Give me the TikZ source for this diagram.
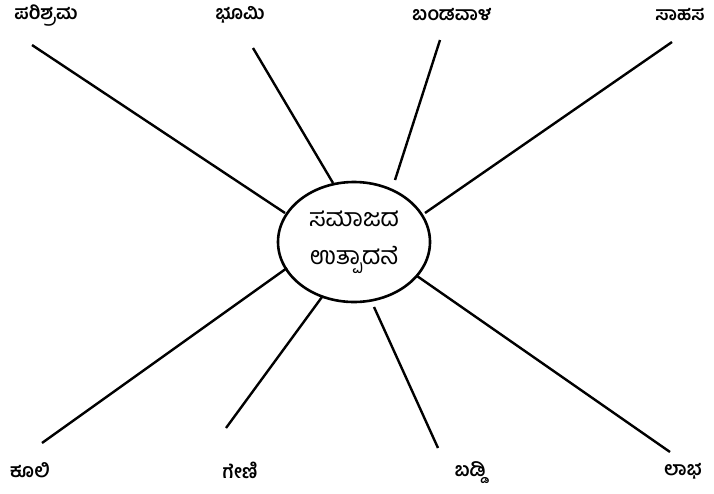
\documentclass[tikz,border=0pt]{standalone}
\usepackage{fontspec}
\usetikzlibrary{shapes.geometric}
\newfontfamily\kn[Script=Kannada]{Hind Mysuru}
\begin{document}
\begin{tikzpicture}[x=1pt,y=-1pt,
  lbl/.style={font=\kn\bfseries\fontsize{19}{22}\selectfont, inner sep=0pt},
  spoke/.style={line width=2.4pt}]
\useasboundingbox (0,0) rectangle (714,493);
\node[draw, line width=2.6pt, ellipse, minimum width=152, minimum height=120, inner sep=0pt,
  align=center, font=\kn\fontsize{25}{38}\selectfont] (c) at (354,242) {ಸಮಾಜದ\\ಉತ್ಪಾದನೆ};
\node[lbl] (t1) at (46,16) {ಪರಿಶ್ರಮ};
\node[lbl] (t2) at (240,15) {ಭೂಮಿ};
\node[lbl] (t3) at (452,15) {ಬಂಡವಾಳ};
\node[lbl] (t4) at (680,15) {ಸಾಹಸ};
\node[lbl] (b1) at (30,470) {ಕೂಲಿ};
\node[lbl] (b2) at (240,470) {ಗೇಣಿ};
\node[lbl] (b3) at (470,473) {ಬಡ್ಡಿ};
\node[lbl] (b4) at (683,471) {ಲಾಭ};
\coordinate (p1) at (32,45);   \coordinate (q1) at (285,213);
\coordinate (p2) at (253,48);  \coordinate (q2) at (333,183);
\coordinate (p3) at (440,40);  \coordinate (q3) at (395,180);
\coordinate (p4) at (672,42);  \coordinate (q4) at (425,213);
\coordinate (p5) at (42,443);  \coordinate (q5) at (287,268);
\coordinate (p6) at (226,428); \coordinate (q6) at (322,297);
\coordinate (p7) at (438,448); \coordinate (q7) at (374,307);
\coordinate (p8) at (670,452); \coordinate (q8) at (417,276);
\foreach \i in {1,...,8} {\draw[spoke] (p\i) -- (q\i);}
\end{tikzpicture}
\end{document}
